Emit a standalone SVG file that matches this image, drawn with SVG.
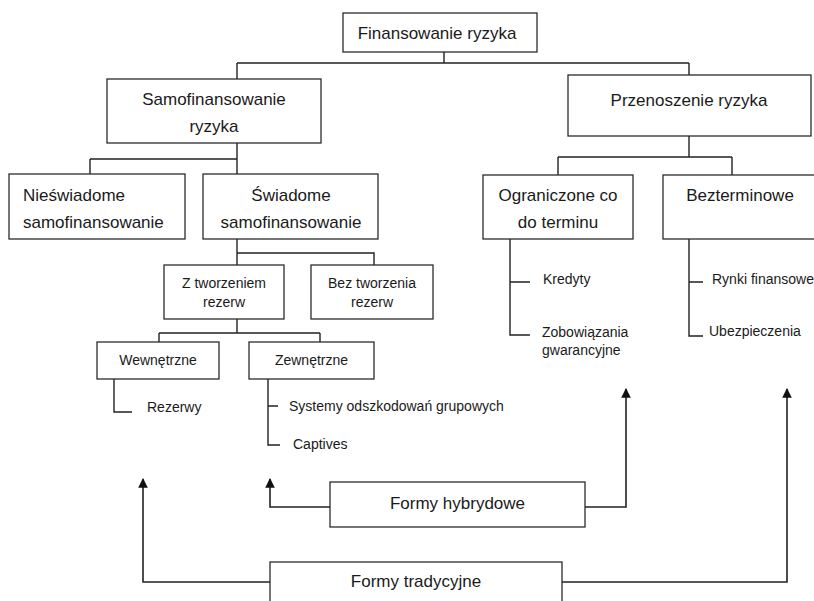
<svg xmlns="http://www.w3.org/2000/svg" width="814" height="601" viewBox="0 0 814 601">
  <defs>
    <style>
      .box { fill: #ffffff; stroke: #2b2b2b; stroke-width: 1.3; }
      .lbl { font-family: "Liberation Sans", Arial, sans-serif; font-size: 17px; fill: #1a1a1a; }
      .sm { font-family: "Liberation Sans", Arial, sans-serif; font-size: 14px; fill: #1a1a1a; }
      .c { text-anchor: middle; }
      .wire { fill: none; stroke: #222222; stroke-width: 1.4; }
      .arrow { fill: none; stroke: #222222; stroke-width: 1.6; marker-end: url(#tip); }
    </style>
    <marker id="tip" viewBox="0 0 10 10" refX="9" refY="5" markerWidth="6" markerHeight="6.5" markerUnits="strokeWidth" orient="auto">
      <path d="M0,0 L10,5 L0,10 Z" fill="#111111"/>
    </marker>
  </defs>
  <rect width="814" height="601" fill="#ffffff"/>

  <!-- tree connectors -->
  <g id="connectors">
    <path class="wire" d="M444,52 V63 M237,63 H689 M237,63 V79 M689,63 V75"/>
    <path class="wire" d="M237,143 V174 M90,159 H237 M90,159 V174"/>
    <path class="wire" d="M237,239 V265 M237,253 H374 V265"/>
    <path class="wire" d="M237,319 V333 M159,333 H320 M159,333 V342 M320,333 V342"/>
    <path class="wire" d="M114,379 V412 H132"/>
    <path class="wire" d="M268,379 V445 H280 M268,406 H278"/>
    <path class="wire" d="M689,136 V157 M558,157 H732 M558,157 V175 M732,157 V175"/>
    <path class="wire" d="M510,239 V335 H530 M510,282 H530"/>
    <path class="wire" d="M689,239 V336 H703 M689,282 H703"/>
    <path class="arrow" d="M330,507 H270 V479"/>
    <path class="arrow" d="M585,507 H626 V389"/>
    <path class="arrow" d="M270,582 H143 V479"/>
    <path class="arrow" d="M562,582 H787 V389"/>
  </g>

  <g id="finansowanie">
    <rect class="box" x="343" y="13" width="194" height="39"/>
    <text class="lbl c" x="437" y="39">Finansowanie ryzyka</text>
  </g>
  <g id="samofinansowanie">
    <rect class="box" x="107" y="79" width="214" height="64"/>
    <text class="lbl c" x="214" y="105">Samofinansowanie</text>
    <text class="lbl c" x="214" y="132">ryzyka</text>
  </g>
  <g id="przenoszenie">
    <rect class="box" x="568" y="75" width="243" height="61"/>
    <text class="lbl c" x="689" y="106">Przenoszenie ryzyka</text>
  </g>
  <g id="nieswiadome">
    <rect class="box" x="9" y="174" width="176" height="65"/>
    <text class="lbl" x="23" y="201">Nieświadome</text>
    <text class="lbl" x="23" y="228">samofinansowanie</text>
  </g>
  <g id="swiadome">
    <rect class="box" x="203" y="174" width="175" height="65"/>
    <text class="lbl c" x="291" y="201">Świadome</text>
    <text class="lbl c" x="291" y="228">samofinansowanie</text>
  </g>
  <g id="ograniczone">
    <rect class="box" x="483" y="175" width="150" height="64"/>
    <text class="lbl c" x="558" y="201">Ograniczone co</text>
    <text class="lbl c" x="558" y="228">do terminu</text>
  </g>
  <g id="bezterminowe">
    <rect class="box" x="663" y="175" width="160" height="64"/>
    <text class="lbl c" x="740" y="201">Bezterminowe</text>
  </g>
  <g id="z-tworzeniem">
    <rect class="box" x="164" y="265" width="120" height="54"/>
    <text class="sm c" x="224" y="288">Z tworzeniem</text>
    <text class="sm c" x="224" y="307">rezerw</text>
  </g>
  <g id="bez-tworzenia">
    <rect class="box" x="311" y="265" width="122" height="54"/>
    <text class="sm c" x="372" y="288">Bez tworzenia</text>
    <text class="sm c" x="372" y="307">rezerw</text>
  </g>
  <g id="wewnetrzne">
    <rect class="box" x="97" y="342" width="122" height="37"/>
    <text class="sm c" x="158" y="365">Wewnętrzne</text>
  </g>
  <g id="zewnetrzne">
    <rect class="box" x="249" y="342" width="125" height="37"/>
    <text class="sm c" x="311.5" y="365">Zewnętrzne</text>
  </g>
  <g id="rezerwy">
    <text class="sm" x="147" y="412">Rezerwy</text>
  </g>
  <g id="systemy">
    <text class="sm" x="289" y="411">Systemy odszkodowań grupowych</text>
  </g>
  <g id="captives">
    <text class="sm" x="293" y="449">Captives</text>
  </g>
  <g id="kredyty">
    <text class="sm" x="543" y="284">Kredyty</text>
  </g>
  <g id="zobowiazania">
    <text class="sm" x="542" y="337">Zobowiązania</text>
    <text class="sm" x="542" y="355">gwarancyjne</text>
  </g>
  <g id="rynki">
    <text class="sm" x="712" y="284">Rynki finansowe</text>
  </g>
  <g id="ubezpieczenia">
    <text class="sm" x="709" y="336">Ubezpieczenia</text>
  </g>
  <g id="hybrydowe">
    <rect class="box" x="330" y="482" width="255" height="45"/>
    <text class="lbl c" x="457.5" y="509">Formy hybrydowe</text>
  </g>
  <g id="tradycyjne">
    <rect class="box" x="270" y="562" width="292" height="50"/>
    <text class="lbl c" x="416" y="587">Formy tradycyjne</text>
  </g>
</svg>
